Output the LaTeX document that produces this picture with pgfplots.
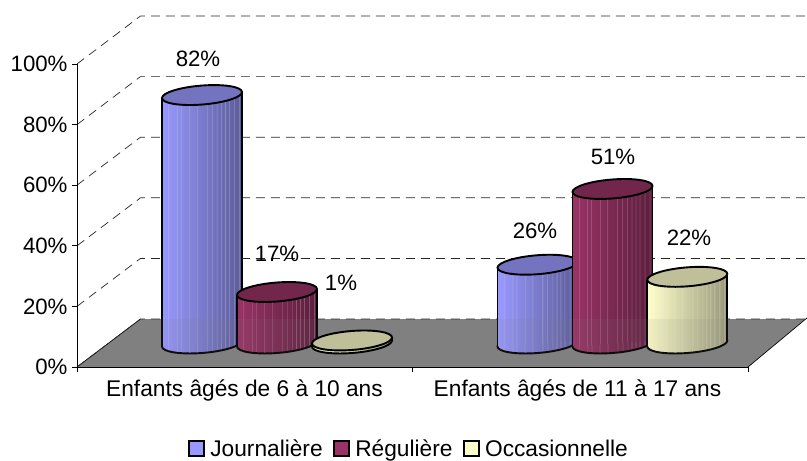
\documentclass[border=0pt]{standalone}
\usepackage{pgfplots}
\pgfplotsset{compat=1.18}
\usepackage{fontspec}
\setmainfont{Liberation Sans}
\definecolor{cblue}{RGB}{153,153,255}
\definecolor{cpurple}{RGB}{153,51,102}
\definecolor{cyellow}{RGB}{255,255,204}
\definecolor{cfloor}{RGB}{128,128,128}
\makeatletter
% cylinder side: horizontal gradient with thin light stripes (25bp..75bp = 80 px)
\newcommand\defcylshade[3]{%
  \xdef\cylspec{color(0bp)=(#2); color(25bp)=(#2)}%
  \foreach \p in {6.3,14.7,18.7,27.3,34.7,44.7,49.7,54.7,59,63,67,72,77}{%
    \pgfmathsetmacro\pa{25+50*(\p-0.7)/80}%
    \pgfmathsetmacro\pb{25+50*\p/80}%
    \pgfmathsetmacro\pc{25+50*(\p+0.7)/80}%
    \pgfmathsetmacro\ma{100-100*(\p-0.7)/80}%
    \pgfmathsetmacro\mb{100-100*\p/80}%
    \pgfmathsetmacro\mc{100-100*(\p+0.7)/80}%
    \xdef\cylspec{\cylspec; color(\pa bp)=(#2!\ma!#3); color(\pb bp)=(#2!\mb!#3!78!white); color(\pc bp)=(#2!\mc!#3)}%
  }%
  \xdef\cylspec{\cylspec; color(75bp)=(#3); color(100bp)=(#3)}%
  \edef\tmp{\noexpand\pgfdeclarehorizontalshading{#1}{100bp}{\cylspec}}\tmp
}
\makeatother
\colorlet{dblue}{cblue!60!black}
\colorlet{dpurple}{cpurple!60!black}
\colorlet{dyellow}{cyellow!60!black}
\defcylshade{shblue}{cblue}{dblue}
\defcylshade{shpurple}{cpurple}{dpurple}
\defcylshade{shyellow}{cyellow}{dyellow}
\newcommand\declmarks[1]{%
  \pgfdeclareplotmark{bot#1}{%
    \pgfpathellipse{\pgfpointorigin}{\pgfqpoint{40bp}{3bp}}{\pgfqpoint{0bp}{9.5bp}}%
    \pgfshadepath{sh#1}{0}\pgfusepath{stroke}}%
  \pgfdeclareplotmark{top#1}{%
    \pgfpathellipse{\pgfpointorigin}{\pgfqpoint{40bp}{3bp}}{\pgfqpoint{0bp}{9.5bp}}%
    \pgfusepathqfillstroke}%
}
\declmarks{blue}\declmarks{purple}\declmarks{yellow}
\tikzset{cylat/.style={cm={1,0.075,0,1,(0bp,{(23.5-0.075*(#1-77))*1bp})}}}
% \cyl{x}{value}{name}{colour}
\newcommand\cyl[4]{%
  \addplot[forget plot,only marks,mark=bot#3,mark options={draw=black,line width=1.9bp},yshift=23.5bp] coordinates {(#1,0)};
  \addplot[forget plot,ybar,bar width=80bp,bar shift=0pt,draw=none,shade,shading=sh#3,cylat=#1] coordinates {(#1,#2)};
  \addplot[forget plot,ycomb,black,line width=1.9bp,cylat=#1,xshift=-40bp] coordinates {(#1,#2)};
  \addplot[forget plot,ycomb,black,line width=1.9bp,cylat=#1,xshift=40bp] coordinates {(#1,#2)};
  \addplot[forget plot,only marks,mark=top#3,mark options={draw=black,fill=#4!75!black,line width=1.9bp},yshift=23.5bp] coordinates {(#1,#2)};
}
\newcommand\gridl[2]{\addplot[forget plot,black!85,line width=.7bp,dash pattern=on 9bp off 6bp] coordinates {(77,#1)(140.5,#2)(807,#2)};}
\newcommand\fnt{\fontsize{22.3}{26}\selectfont}
\newcommand\fntb{\fontsize{22.8}{26}\selectfont}
\begin{document}
\begin{tikzpicture}[x=1bp,y=1bp]
\path[use as bounding box] (-77bp,-94bp) rectangle (730bp,367bp);
\begin{axis}[
  scale only axis,width=671bp,height=303bp,
  xmin=77,xmax=748,ymin=0,ymax=100,clip=false,clip mode=individual,
  axis x line*=bottom,axis y line*=left,axis on top=true,
  axis line style={black,line width=.9bp,-},
  tick align=outside,major tick length=5bp,
  tick style={black,line width=.8bp},
  ytick={0,20,40,60,80,100},
  yticklabel={\pgfmathprintnumber{\tick}\%},
  /pgf/number format/assume math mode=true,
  xtick={77,412,748},xticklabels={},
  extra x ticks={244.5,577.5},
  extra x tick labels={Enfants âgés de 6 à 10 ans,Enfants âgés de 11 à 17 ans},
  extra x tick style={major tick length=0pt,tick label style={font=\fntb}},
  yticklabel style={font=\fnt,xshift=-1bp},
  xticklabel style={font=\fntb,yshift=-9bp},
  legend columns=3,
  legend cell align=left,
  legend style={draw=none,fill=none,at={(axis cs:409,-27.1)},anchor=center,
    font=\fntb,inner sep=0pt,
    /tikz/every odd column/.append style={column sep=3bp},
    /tikz/every even column/.append style={column sep=8.5bp}},
  legend image code/.code={\draw[#1,draw=black,line width=2.1bp] (0bp,-6.5bp) rectangle (15bp,8bp);},
]
\addlegendimage{fill=cblue}\addlegendentry{Journalière}
\addlegendimage{fill=cpurple}\addlegendentry{Régulière}
\addlegendimage{fill=cyellow}\addlegendentry{Occasionnelle}
% floor
\addplot[forget plot,fill=cfloor,draw=none] coordinates {(77,0)(140.5,15.84)(807,15.84)(807,16.2)(748,0)} \closedcycle;
\addplot[forget plot,black,line width=.7bp] coordinates {(77,0)(140.5,15.84)};
\addplot[forget plot,black,line width=.7bp] coordinates {(748,0)(807,16.2)};
% back wall
\gridl{0}{15.84}
\gridl{20}{35.84}
\gridl{40}{55.84}
\gridl{60}{75.84}
\gridl{80}{95.84}
\gridl{100}{115.84}
% cylinders
\cyl{202}{82}{blue}{cblue}
\cyl{537.5}{26}{blue}{cblue}
\cyl{277}{17}{purple}{cpurple}
\cyl{612.5}{51}{purple}{cpurple}
\cyl{687.3}{22}{yellow}{cyellow}
% floor seen through the cylinders
\addplot[forget plot,fill=cfloor,fill opacity=.1,draw=none] coordinates {(77,0)(140.5,15.84)(807,15.84)(807,16.2)(748,0)} \closedcycle;
\cyl{352}{1}{yellow}{cyellow}
% data labels
\node[font=\fnt] at (axis cs:198,101.6) {82\%};
\node[font=\fnt] at (axis cs:277,37.3) {17\%};
\node[font=\fnt] at (axis cs:341,27.7) {1\%};
\node[font=\fnt] at (axis cs:535,44.9) {26\%};
\node[font=\fnt] at (axis cs:613,69.3) {51\%};
\node[font=\fnt] at (axis cs:689,42.6) {22\%};
\end{axis}
\end{tikzpicture}
\end{document}
